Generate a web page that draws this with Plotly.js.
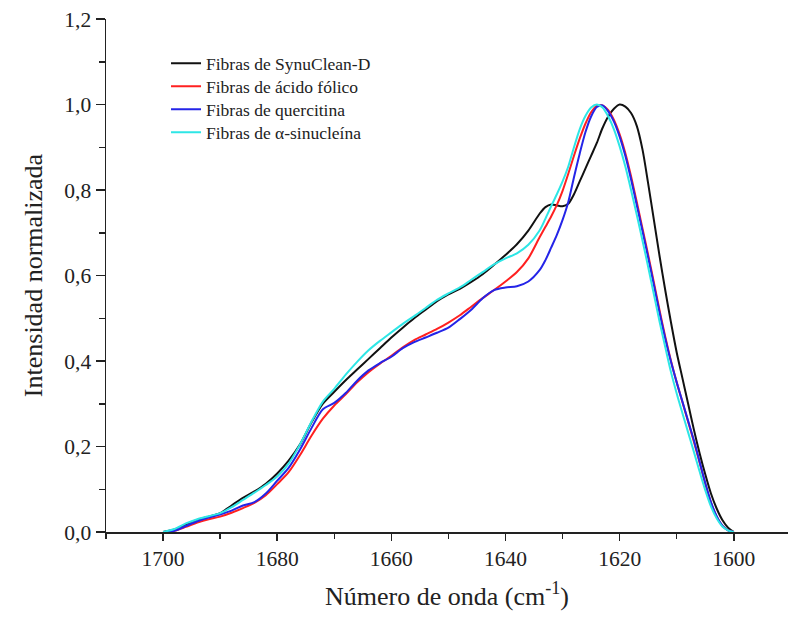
<!DOCTYPE html>
<html>
<head>
<meta charset="utf-8">
<script src="https://cdn.plot.ly/plotly-3.0.1.min.js"></script>
<style>html,body{margin:0;padding:0;background:#fff;}#chart{width:788px;height:620px;}</style>
</head>
<body>
<div id="chart"></div>
<script>
// Wavenumber grid (cm-1)
const wavenumber = [1700,1698,1696,1694,1692,1690,1688,1686,1684,1682,1680,1678,1676,1674,1672,1670,1668,1666,1664,1662,1660,1658,1656,1654,1652,1650,1648,1646,1644,1642,1640,1638,1636,1634,1633,1632,1631,1630,1629,1628,1627,1626,1625,1624,1623,1622,1621,1620,1619,1618,1617,1616,1615,1614,1613,1612,1611,1610,1609,1608,1607,1606,1605,1604,1603,1602,1601,1600];

const synuclean = [0,0.006,0.018,0.028,0.036,0.044,0.062,0.080,0.095,0.113,0.137,0.167,0.205,0.256,0.300,0.328,0.355,0.380,0.405,0.430,0.455,0.478,0.500,0.520,0.540,0.556,0.569,0.585,0.603,0.625,0.648,0.673,0.705,0.745,0.760,0.766,0.764,0.762,0.768,0.790,0.820,0.850,0.880,0.910,0.945,0.972,0.990,1.000,0.995,0.980,0.950,0.895,0.815,0.730,0.645,0.565,0.490,0.420,0.360,0.300,0.240,0.185,0.135,0.090,0.055,0.028,0.010,0];

const folico = [0,0.003,0.012,0.022,0.030,0.036,0.045,0.056,0.068,0.086,0.112,0.140,0.180,0.225,0.265,0.296,0.322,0.350,0.374,0.394,0.412,0.432,0.449,0.462,0.475,0.490,0.507,0.527,0.547,0.566,0.586,0.608,0.640,0.690,0.714,0.738,0.765,0.798,0.838,0.880,0.920,0.955,0.982,0.997,0.998,0.987,0.964,0.930,0.886,0.832,0.772,0.710,0.648,0.584,0.518,0.456,0.400,0.350,0.304,0.258,0.212,0.163,0.113,0.069,0.036,0.015,0.004,0];

const quercitina = [0,0.003,0.014,0.025,0.034,0.041,0.050,0.062,0.070,0.090,0.120,0.150,0.193,0.243,0.287,0.302,0.325,0.354,0.378,0.395,0.410,0.430,0.444,0.455,0.466,0.478,0.498,0.520,0.547,0.566,0.572,0.575,0.586,0.613,0.636,0.665,0.695,0.730,0.772,0.830,0.885,0.935,0.972,0.994,0.998,0.984,0.960,0.925,0.880,0.825,0.765,0.704,0.642,0.578,0.513,0.452,0.398,0.350,0.305,0.260,0.215,0.165,0.115,0.070,0.037,0.015,0.004,0];

const sinucleina = [0,0.007,0.020,0.030,0.037,0.044,0.058,0.075,0.092,0.110,0.130,0.160,0.205,0.258,0.305,0.335,0.368,0.398,0.425,0.447,0.467,0.487,0.505,0.524,0.543,0.558,0.572,0.590,0.608,0.626,0.640,0.652,0.672,0.706,0.733,0.762,0.790,0.820,0.855,0.900,0.942,0.973,0.993,1.000,0.993,0.972,0.942,0.902,0.855,0.800,0.742,0.682,0.620,0.556,0.492,0.432,0.374,0.324,0.278,0.233,0.188,0.142,0.098,0.060,0.032,0.013,0.004,0];

const seriesNames = ["Fibras de SynuClean-D","Fibras de ácido fólico","Fibras de quercitina","Fibras de α-sinucleína"];
const seriesValues = [synuclean, folico, quercitina, sinucleina];
const seriesColors = ["#111111","#ff2020","#2424e8","#2ee6e6"];

const xTickVals = [1700,1680,1660,1640,1620,1600];
const xTickText = ["1700","1680","1660","1640","1620","1600"];
const xMinorVals = [1710,1690,1670,1650,1630,1610,1590];
const yTickVals = [0,0.2,0.4,0.6,0.8,1.0,1.2];
const yTickText = ["0,0","0,2","0,4","0,6","0,8","1,0","1,2"];
const yMinorVals = [0.1,0.3,0.5,0.7,0.9,1.1];

const FONT = "Liberation Serif, Times New Roman, serif";
const legendIds = ["legend","legend2","legend3","legend4"];
const legendTops = [0.9487, 0.9039, 0.8591, 0.8142];

const traces = seriesNames.map((name, i) => ({
  x: wavenumber,
  y: seriesValues[i],
  name: name,
  legend: legendIds[i],
  type: "scatter",
  mode: "lines",
  line: {color: seriesColors[i], width: 2, shape: "spline", smoothing: 0.8}
}));

const layout = {
  width: 788, height: 620,
  margin: {l: 106, r: 0, t: 19, b: 88},
  paper_bgcolor: "#fff", plot_bgcolor: "#fff",
  font: {family: FONT, color: "#222"},
  showlegend: true,
  xaxis: {
    range: [1710, 1590.5],
    showline: true, linecolor: "#222", linewidth: 1.5,
    showgrid: false, zeroline: false,
    tickmode: "array", tickvals: xTickVals, ticktext: xTickText,
    ticks: "outside", ticklen: 7, tickwidth: 1.5, tickcolor: "#222",
    tickfont: {family: FONT, size: 21.5, color: "#222"},
    minor: {tickmode: "array", tickvals: xMinorVals, ticks: "outside", ticklen: 5, tickwidth: 1.5, tickcolor: "#222", showgrid: false},
    title: {text: "Número de onda (cm<sup>-1</sup>)", font: {family: FONT, size: 26, color: "#222"}, standoff: 16}
  },
  yaxis: {
    range: [0, 1.2],
    showline: true, linecolor: "#222", linewidth: 1.5,
    showgrid: false, zeroline: false,
    tickmode: "array", tickvals: yTickVals, ticktext: yTickText,
    ticks: "outside", ticklen: 9, tickwidth: 1.5, tickcolor: "#222",
    tickfont: {family: FONT, size: 21.5, color: "#222"},
    minor: {tickmode: "array", tickvals: yMinorVals, ticks: "outside", ticklen: 6, tickwidth: 1.5, tickcolor: "#222", showgrid: false},
    title: {text: "Intensidad normalizada", font: {family: FONT, size: 26, color: "#222"}, standoff: 14}
  }
};

legendIds.forEach((id, i) => {
  layout[id] = {
    x: 0.088, y: legendTops[i], xanchor: "left", yanchor: "top",
    font: {family: FONT, size: 17.5, color: "#222"},
    bgcolor: "rgba(0,0,0,0)", borderwidth: 0
  };
});

Plotly.newPlot("chart", traces, layout, {displayModeBar: false, staticPlot: true});
</script>
</body>
</html>
